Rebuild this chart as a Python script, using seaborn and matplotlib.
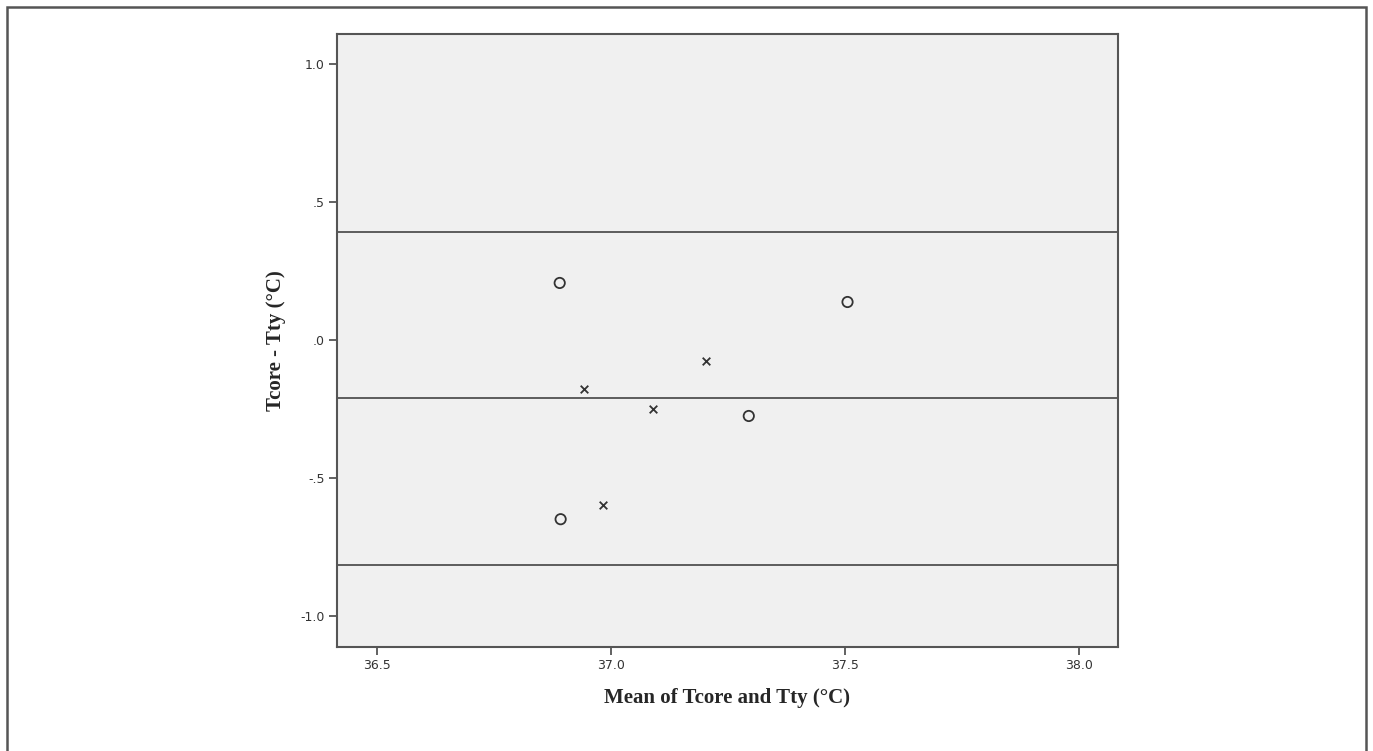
import pandas as pd
import matplotlib.pyplot as plt
import seaborn as sns
from matplotlib.patches import Rectangle

# Bland-Altman points
mean_circle = [36.891, 37.506, 37.295, 36.893]
diff_circle = [0.207, 0.138, -0.275, -0.649]
mean_cross = [36.942, 37.090, 37.203, 36.983]
diff_cross = [-0.178, -0.250, -0.076, -0.598]

# mean difference and limits of agreement
limits = [0.391, -0.210, -0.815]

x_ticks = [36.5, 37.0, 37.5, 38.0]
x_labels = ["36.5", "37.0", "37.5", "38.0"]
y_ticks = [1.0, 0.5, 0.0, -0.5, -1.0]
y_labels = ["1.0", ".5", ".0", "-.5", "-1.0"]

df = pd.DataFrame({
    "mean": mean_circle + mean_cross,
    "diff": diff_circle + diff_cross,
    "group": ["a"] * len(mean_circle) + ["b"] * len(mean_cross),
})

sns.set_style("white")
fig = plt.figure(figsize=(13.73, 7.51), dpi=100)
ax = fig.add_axes([0.2454, 0.1385, 0.5689, 0.8162])
ax.set_facecolor("#f0f0f0")

sns.scatterplot(data=df[df["group"] == "a"], x="mean", y="diff", ax=ax,
                marker="o", s=55, facecolor="none", edgecolor="#333333",
                linewidth=1.3, legend=False)
sns.scatterplot(data=df[df["group"] == "b"], x="mean", y="diff", ax=ax,
                marker="x", s=30, color="#333333", linewidth=1.3, legend=False)

for v in limits:
    ax.axhline(v, color="#444444", linewidth=1.2, zorder=1)

ax.set_xlim(36.415, 38.084)
ax.set_ylim(-1.112, 1.109)
ax.set_xticks(x_ticks)
ax.set_xticklabels(x_labels)
ax.set_yticks(y_ticks)
ax.set_yticklabels(y_labels)
ax.tick_params(bottom=True, left=True, direction="out", length=6, width=1.3,
               color="#555555", labelsize=9, labelcolor="#333333", pad=3)
for s in ax.spines.values():
    s.set_color("#555555")
    s.set_linewidth(1.5)

ax.set_xlabel("Mean of Tcore and Tty (\u00b0C)", family="Liberation Serif",
              fontweight="bold", fontsize=15, labelpad=11)
ax.set_ylabel("Tcore - Tty (\u00b0C)", family="Liberation Serif",
              fontweight="bold", fontsize=15, labelpad=10)

# outer frame around the whole picture
fig.patches.append(Rectangle((7 / 1373, -0.05), 1359 / 1373, 0.05 + 744 / 751,
                             transform=fig.transFigure, fill=False,
                             edgecolor="#555555", linewidth=1.8))

fig.savefig("out.png", dpi=100)
